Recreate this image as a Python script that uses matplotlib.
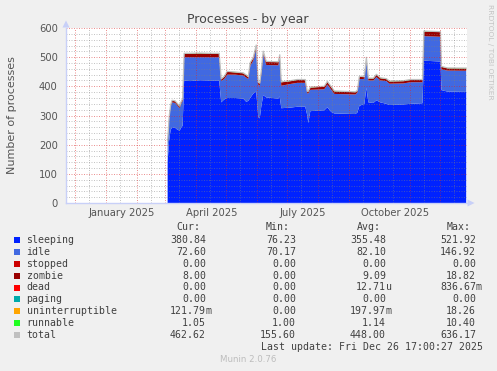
import matplotlib
matplotlib.use("Agg")
import matplotlib.pyplot as plt
from matplotlib.patches import Polygon, Rectangle
import numpy as np
import pandas as pd

# ---------------- data ----------------
dates = ["2025-03-03 12:00", "2025-03-05", "2025-03-06 12:00", "2025-03-08", "2025-03-11",
         "2025-03-13", "2025-03-15 12:00", "2025-03-17", "2025-03-18 12:00", "2025-03-20",
         "2025-03-26", "2025-04-05", "2025-04-15", "2025-04-24", "2025-04-26",
         "2025-04-29", "2025-05-02", "2025-05-10", "2025-05-18", "2025-05-21",
         "2025-05-23", "2025-05-25", "2025-05-28", "2025-05-31", "2025-06-02",
         "2025-06-03 12:00", "2025-06-05", "2025-06-07", "2025-06-10", "2025-06-22",
         "2025-06-23 12:00", "2025-06-25", "2025-07-04", "2025-07-11", "2025-07-19",
         "2025-07-21", "2025-07-22", "2025-07-24", "2025-08-07", "2025-08-10",
         "2025-08-14", "2025-08-17", "2025-09-07", "2025-09-09", "2025-09-11",
         "2025-09-16", "2025-09-18", "2025-09-20", "2025-09-25", "2025-09-28",
         "2025-10-02", "2025-10-08", "2025-10-11", "2025-10-25", "2025-11-01",
         "2025-11-13", "2025-11-14 12:00", "2025-12-01", "2025-12-02", "2025-12-08",
         "2025-12-26 17:00"]

sleeping = [140, 215, 250, 260, 258, 252, 248, 258, 265, 420,
            418, 421, 420, 420, 345, 355, 360, 360, 358, 347,
            350, 360, 375, 382, 295, 290, 330, 370, 362, 358,
            365, 325, 327, 330, 330, 300, 274, 315, 318, 328,
            312, 307, 305, 310, 333, 340, 395, 345, 343, 352,
            345, 340, 336, 338, 340, 342, 488, 485, 387, 382,
            380.84]
idle = [70, 75, 80, 85, 85, 83, 77, 82, 85, 80,
        82, 79, 80, 80, 73, 70, 80, 80, 79, 83,
        75, 110, 113, 146, 110, 112, 110, 140, 111, 114,
        132, 77, 81, 82, 82, 75, 102, 73, 72, 78,
        76, 67, 67, 68, 92, 85, 95, 75, 77, 80,
        75, 78, 73, 72, 74, 72, 84, 85, 71, 72,
        72.6]
zombie = [2, 3, 5, 6, 6, 6, 6, 6, 7, 12,
          12, 13, 12, 12, 6, 8, 10, 8, 8, 8,
          7, 10, 9, 12, 8, 8, 10, 9, 11, 11,
          10, 12, 10, 10, 10, 7, 6, 8, 9, 10,
          9, 9, 8, 7, 8, 7, 8, 7, 7, 8,
          8, 7, 8, 8, 8, 8, 16, 16, 9, 8,
          8.0]
runnable = [1.2, 1.1, 1.1, 1.0, 1.1, 1.0, 1.2, 1.1, 1.0, 1.1,
            1.2, 1.1, 1.0, 1.1, 1.2, 1.1, 1.0, 1.2, 1.1, 1.0,
            1.1, 1.3, 1.2, 1.4, 1.1, 1.0, 1.2, 1.3, 1.1, 1.0,
            1.2, 1.1, 1.0, 1.2, 1.1, 1.0, 1.1, 1.2, 1.1, 1.0,
            1.2, 1.1, 1.0, 1.1, 1.3, 1.1, 1.2, 1.1, 1.0, 1.1,
            1.2, 1.1, 1.0, 1.1, 1.2, 1.1, 1.3, 1.2, 1.1, 1.0,
            1.05]
uninterruptible = [0.2, 0.2, 0.3, 0.2, 0.1, 0.2, 0.2, 0.3, 0.2, 0.2,
                   0.2, 0.1, 0.2, 0.2, 0.3, 0.2, 0.2, 0.1, 0.2, 0.2,
                   0.2, 0.3, 0.2, 0.4, 0.2, 0.2, 0.1, 0.3, 0.2, 0.2,
                   0.2, 0.3, 0.2, 0.2, 0.1, 0.2, 0.2, 0.2, 0.2, 0.1,
                   0.2, 0.2, 0.2, 0.2, 0.3, 0.2, 0.2, 0.2, 0.1, 0.2,
                   0.2, 0.2, 0.2, 0.1, 0.2, 0.2, 0.3, 0.2, 0.2, 0.1,
                   0.12]

series_names = ["sleeping", "idle", "stopped", "zombie", "dead", "paging",
                "uninterruptible", "runnable", "total"]
series_colors = ["#0022FF", "#4169E1", "#CC0000", "#990000", "#FF0000", "#00AAAA",
                 "#FFA500", "#22FF22", "#C0C0C0"]
cur_vals = ["380.84", "72.60", "0.00", "8.00", "0.00", "0.00", "121.79m", "1.05", "462.62"]
min_vals = ["76.23", "70.17", "0.00", "0.00", "0.00", "0.00", "0.00", "1.00", "155.60"]
avg_vals = ["355.48", "82.10", "0.00", "9.09", "12.71u", "0.00", "197.97m", "1.14", "448.00"]
max_vals = ["521.92", "146.92", "0.00", "18.82", "836.67m", "0.00", "18.26", "10.40", "636.17"]

x_labels = ["January 2025", "April 2025", "July 2025", "October 2025"]
x_label_dates = ["2025-01-16 12:00", "2025-04-16 12:00", "2025-07-16 12:00", "2025-10-16 12:00"]
y_ticks = [0, 100, 200, 300, 400, 500, 600]

# ---------------- figure ----------------
W, H = 497, 371
fig = plt.figure(figsize=(W / 100, H / 100), dpi=100, facecolor="#F0F0F0")

def fx(px):
    return px / W

def fy(py):
    return 1 - py / H

L, R, T, B = 66, 467, 28, 203
ax = fig.add_axes([fx(L), fy(B), (R - L) / W, (B - T) / H])
ax.set_facecolor("white")

t = pd.to_datetime(dates, format="ISO8601")
sl = np.array(sleeping, float)
idl = np.array(idle, float)
zo = np.array(zombie, float)
un = np.array(uninterruptible, float)
ru = np.array(runnable, float)
zeros = np.zeros_like(sl)
stack = [sl, idl, zeros, zo, zeros, zeros, un, ru]
ax.stackplot(t, *stack, colors=series_colors[:8], linewidth=0, zorder=2)
total = sl + idl + zo + un + ru
ax.plot(t, total, color="#C0C0C0", lw=0.9, zorder=3)

x0 = pd.Timestamp("2024-11-22")
x1 = pd.Timestamp("2025-12-27 12:00")
ax.set_xlim(x0, x1)
ax.set_ylim(0, 600)

# grid drawn on top of data (rrdtool style)
minor_c = (0.5, 0.5, 0.5, 0.45)
major_c = (0.85, 0.15, 0.15, 0.5)
dash = (0, (1, 1.5))
for v in range(20, 600, 20):
    if v % 100:
        ax.axhline(v, color=minor_c, lw=0.72, ls=dash, zorder=4)
for v in range(100, 601, 100):
    ax.axhline(v, color=major_c, lw=0.72, ls=dash, zorder=4)
months = pd.date_range("2024-12-01", "2025-12-01", freq="MS")
for m in months:
    ax.axvline(m, color=major_c, lw=0.72, ls=dash, zorder=4)
    mid = m + pd.Timedelta(days=14)
    if mid < x1:
        ax.axvline(mid, color=minor_c, lw=0.72, ls=dash, zorder=4)

for s in ["top", "right"]:
    ax.spines[s].set_visible(False)
for s in ["left", "bottom"]:
    ax.spines[s].set_color("#C8D0F8")
    ax.spines[s].set_linewidth(1.0)
    ax.spines[s].set_zorder(5)

ax.set_yticks(y_ticks)
ax.set_yticklabels([str(v) for v in y_ticks])
ax.set_xticks(pd.to_datetime(x_label_dates, format="ISO8601"))
ax.set_xticklabels(x_labels)
ax.tick_params(axis="both", length=0, labelsize=7.2, labelcolor="#555555")
ax.tick_params(axis="y", pad=6)
ax.tick_params(axis="x", pad=3.5)

ax.set_ylabel("Number of processes", fontsize=8, color="#555555", labelpad=16)

# arrows
fig.patches.append(Polygon([[fx(66), fy(20.5)], [fx(62.5), fy(27.5)], [fx(69.5), fy(27.5)]],
                           closed=True, transform=fig.transFigure, facecolor="#C8D0F8",
                           edgecolor="none", figure=fig))
fig.patches.append(Polygon([[fx(474.5), fy(203)], [fx(467.5), fy(199.5)], [fx(467.5), fy(206.5)]],
                           closed=True, transform=fig.transFigure, facecolor="#C8D0F8",
                           edgecolor="none", figure=fig))

# title and side text
fig.text(fx(248), fy(19), "Processes - by year", ha="center", va="center",
         fontsize=9, color="#444444")
fig.text(fx(490), fy(4), "RRDTOOL / TOBI OETIKER", ha="center", va="top",
         rotation=270, fontsize=5.4, color="#C4C4C4")

# legend
mono = "DejaVu Sans Mono"
fs = 7.1
tc = "#404040"
fig.text(fx(200), fy(227.5), "Cur:", ha="right", va="center", family=mono, fontsize=fs, color=tc)
fig.text(fx(290), fy(227.5), "Min:", ha="right", va="center", family=mono, fontsize=fs, color=tc)
fig.text(fx(381), fy(227.5), "Avg:", ha="right", va="center", family=mono, fontsize=fs, color=tc)
fig.text(fx(471), fy(227.5), "Max:", ha="right", va="center", family=mono, fontsize=fs, color=tc)

cols = [(206, cur_vals), (296, min_vals), (386, avg_vals), (476, max_vals)]
for i, name in enumerate(series_names):
    yy = 239.7 + i * 11.95
    fig.patches.append(Rectangle((fx(14), fy(yy + 3)), 6 / W, 6 / H, transform=fig.transFigure,
                                 facecolor=series_colors[i], edgecolor="none", figure=fig))
    fig.text(fx(26.5), fy(yy), name, ha="left", va="center", family=mono, fontsize=fs, color=tc)
    for xe, vals in cols:
        s = vals[i]
        unit = ""
        if s[-1].isalpha():
            s, unit = s[:-1], s[-1]
        fig.text(fx(xe), fy(yy), s, ha="right", va="center", family=mono, fontsize=fs, color=tc)
        if unit:
            fig.text(fx(xe), fy(yy), unit, ha="left", va="center", family=mono, fontsize=fs, color=tc)

fig.text(fx(483), fy(347.5), "Last update: Fri Dec 26 17:00:27 2025", ha="right", va="center",
         family=mono, fontsize=fs, color=tc)
fig.text(fx(248), fy(360), "Munin 2.0.76", ha="center", va="center", fontsize=6.2, color="#BDBDBD")

fig.savefig("out.png", dpi=100, facecolor=fig.get_facecolor())
